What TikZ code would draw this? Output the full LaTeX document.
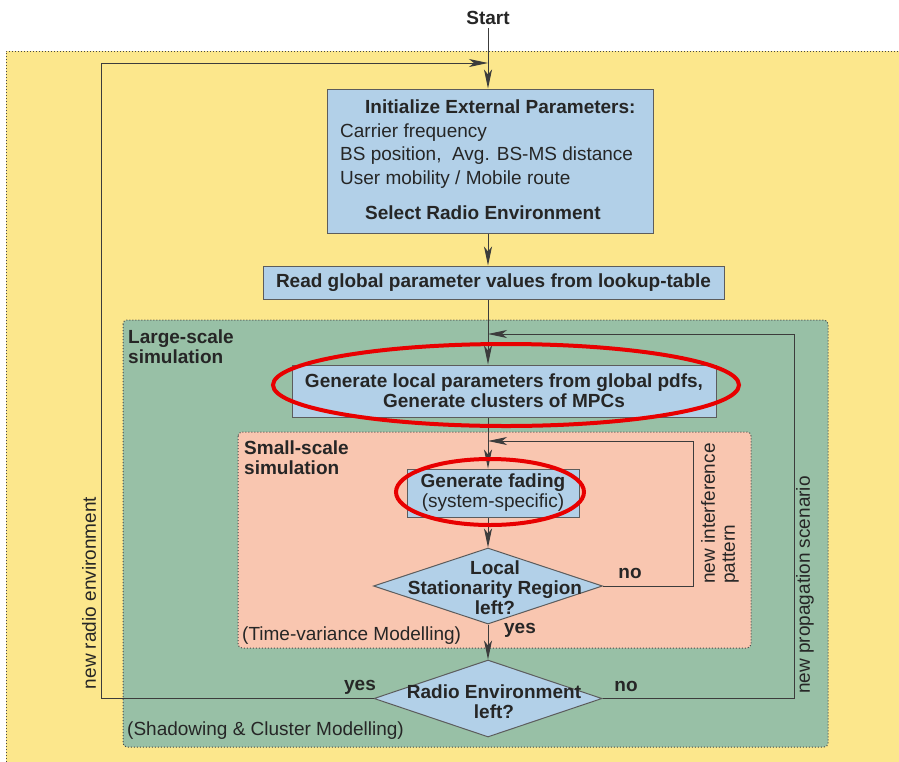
\documentclass[tikz,border=0pt]{standalone}
\usepackage{fontspec}
\setmainfont{Liberation Sans}
\usetikzlibrary{arrows.meta,shapes.geometric}

\definecolor{paper}{RGB}{252,231,140}
\definecolor{largefill}{RGB}{152,192,166}
\definecolor{smallfill}{RGB}{249,198,176}
\definecolor{boxfill}{RGB}{178,208,232}
\definecolor{ringred}{RGB}{232,0,0}
\definecolor{ink}{RGB}{38,38,38}

\begin{document}
\begin{tikzpicture}[x=1pt, y=-1pt,
  every node/.style={font=\fontsize{19}{20}\selectfont, text=ink},
  bold/.style={font=\fontsize{19}{20}\selectfont\bfseries},
  line/.style={draw=ink!90, line width=0.9pt},
  arr/.style={line, -{Stealth[length=19pt, width=8pt, inset=5pt]}},
  region/.style={draw=ink!85, line width=1pt, dash pattern=on 1pt off 2pt, rounded corners=4pt},
  proc/.style={rectangle, draw=ink!75, fill=boxfill, line width=1pt, inner sep=0},
  decide/.style={diamond, draw=ink!75, fill=boxfill, line width=1pt, inner sep=0},
  ring/.style={draw=ringred, line width=4pt},
  lbl/.style={anchor=west, inner sep=0, text height=14pt, text depth=4pt}]

\useasboundingbox (0,0) rectangle (899,761);
\clip (0,0) rectangle (899,761);

\def\xs{488}
\def\yr{63}
\def\yp{334}
\def\yi{441}

\fill[paper] (6,51) rectangle (920,780);
\draw[region, rounded corners=0] (6,780) -- (6,51) -- (920,51);
\filldraw[region, fill=largefill] (123,320) rectangle (828,747);
\filldraw[region, fill=smallfill] (238,432) rectangle (751,648);

\node[bold] (start) at (\xs,18) {Start};

\node[proc, minimum width=326pt, minimum height=144pt] (init) at (490,161) {};
\node[lbl, bold] (ttl) at (365,108) {Initialize External Parameters:};
\node[lbl] (cf) at (340,132) {Carrier frequency};
\node[lbl] (bsp) at (340,155) {BS position,\ \ Avg. BS-MS distance};
\node[lbl] (umr) at (340,179) {User mobility / Mobile route};
\node[lbl, bold] (sre) at (365,214) {Select Radio Environment};

\node[proc, bold, minimum width=461pt, minimum height=33pt] (read) at (493.5,282.5) {Read global parameter values from lookup-table};

\node[bold, align=left, anchor=north west, inner sep=0] (lss) at (128,330) {Large-scale\\simulation};
\node[proc, bold, align=center, minimum width=424pt, minimum height=52pt] (gen) at (504,391) {Generate local parameters from global pdfs,\\Generate clusters of MPCs};

\node[bold, align=left, anchor=north west, inner sep=0] (sss) at (244,441) {Small-scale\\simulation};
\node[proc, align=center, minimum width=172pt, minimum height=48pt] (fad) at (493,493) {\textbf{Generate fading}\\(system-specific)};

\node[decide, minimum width=229pt, minimum height=76pt] (loc) at (\xs,586) {};
\node[bold, align=center] (loctxt) at (495,588) {Local\\Stationarity Region\\left?};
\node[lbl] (tvm) at (242,635) {(Time-variance Modelling)};

\node[decide, minimum width=228pt, minimum height=77pt] (env) at (\xs,698.5) {};
\node[bold, align=center] (envtxt) at (494,702) {Radio Environment\\left?};
\node[lbl] (scm) at (127,730) {(Shadowing \& Cluster Modelling)};

\node[bold] (no1) at (630,573) {no};
\node[bold] (yes1) at (520,630) {yes};
\node[bold] (no2) at (626,686) {no};
\node[bold] (yes2) at (360,687) {yes};

\node[rotate=90] (nre) at (89,593) {new radio environment};
\node[rotate=90] (nps) at (805,585) {new propagation scenario};
\node[rotate=90, anchor=north west, align=left, inner sep=0] (nip) at (701,584) {new interference\\pattern};

\coordinate (cr) at (101,\yr);
\coordinate (jr) at (\xs,\yr);
\coordinate (cp) at (794,\yp);
\coordinate (jp) at (\xs,\yp);
\coordinate (ci) at (693,\yi);
\coordinate (ji) at (\xs,\yi);

\draw[arr] (start) -- (init.north -| start);
\draw[arr] (init.south -| start) -- (read.north -| start);
\draw[arr] (read.south -| start) -- (gen.north -| start);
\draw[arr] (gen.south -| start) -- (fad.north -| start);
\draw[arr] (fad.south -| start) -- (loc.north);
\draw[arr] (loc.south) -- (env.north);

\draw[arr] (loc.east) -| (ci) -- (ji);
\draw[arr] (env.east) -| (cp) -- (jp);
\draw[arr] (env.west) -| (cr) -- (jr);

\draw[ring] (506,385) ellipse [x radius=233, y radius=41];
\draw[ring] (490,492) ellipse [x radius=94, y radius=33];

\end{tikzpicture}
\end{document}
